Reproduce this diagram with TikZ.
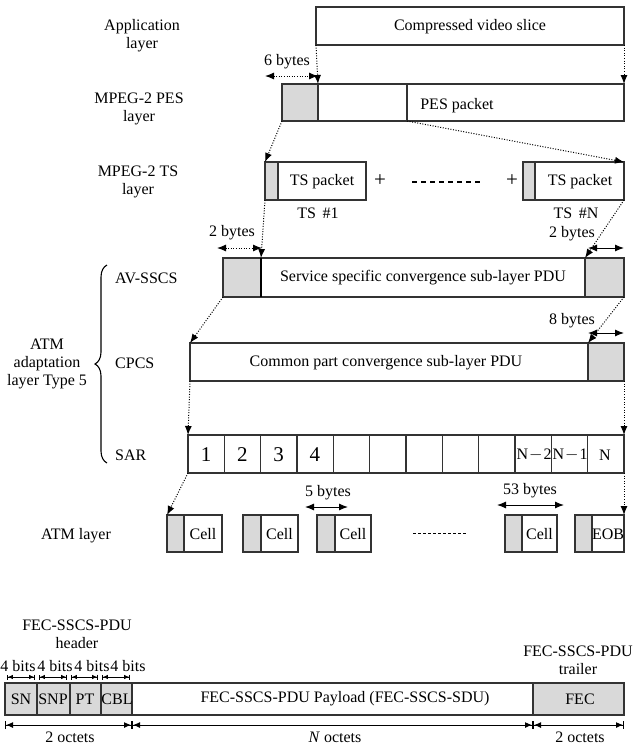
\documentclass[tikz,border=0pt]{standalone}
\usepackage{fontspec}
\setmainfont{Liberation Serif}
\usetikzlibrary{arrows.meta,decorations.pathreplacing}

\tikzset{
  txt/.style={font=\fontsize{16}{18}\selectfont, inner sep=0pt, align=center},
  big/.style={font=\fontsize{21}{22}\selectfont, inner sep=0pt},
  pkt/.style={draw=black!80, line width=1.1pt},
  hdr/.style={pkt, fill=black!15},
  map/.style={line width=1pt, dash pattern=on 1pt off 1.6pt, -{Latex[length=9pt,width=7pt]}},
  span/.style={line width=1pt, {Latex[length=9pt,width=7pt]}-{Latex[length=9pt,width=7pt]}},
  spandot/.style={span, dash pattern=on 1pt off 1.6pt},
  bits/.style={line width=0.8pt, {Bar[width=5pt]Latex[length=5pt,width=4.5pt]}-{Latex[length=5pt,width=4.5pt]Bar[width=5pt]}},
  octets/.style={line width=1pt, {Bar[width=8pt]Latex[length=7pt,width=6pt]}-{Latex[length=7pt,width=6pt]Bar[width=8pt]}}
}

\begin{document}
\begin{tikzpicture}[x=1pt,y=-1pt]
  \useasboundingbox (0,0) rectangle (635,747);

  \node[txt] (appl) at (142,36) {Application\\layer};
  \coordinate (V1) at (316,7);
  \coordinate (V2) at (624,45);
  \coordinate (V3) at (316,45);
  \draw[pkt] (V1) rectangle (V2);
  \node[txt] (vslice) at (470,27) {Compressed video slice};

  \node[txt] (peslbl) at (139,109) {MPEG-2 PES\\layer};
  \coordinate (P1) at (282,84);
  \coordinate (P2) at (624,121);
  \coordinate (P3) at (624,84);
  \coordinate (P4) at (282,121);
  \coordinate (Ph) at (318,84);
  \coordinate (Pd) at (407,121);
  \draw[hdr] (P1) rectangle (318,121);
  \draw[pkt] (Ph) rectangle (P2);
  \draw[pkt] (407,84) -- (Pd);
  \node[txt] (pes) at (457,106) {PES packet};
  \draw[map] (V3) -- (Ph);
  \draw[map] (V2) -- (P3);
  \coordinate (b6l) at (265,76);
  \coordinate (b6r) at (318,76);
  \draw[spandot] (b6l) -- (b6r);
  \node[txt] (b6) at (287,62) {6 bytes};

  \node[txt] (tslbl) at (138,182) {MPEG-2 TS\\layer};
  \coordinate (T1a) at (265,162);
  \coordinate (T1b) at (366,200);
  \coordinate (T1c) at (265,200);
  \draw[hdr] (T1a) rectangle (278,200);
  \draw[pkt] (278,162) rectangle (T1b);
  \node[txt] (ts1) at (322,182) {TS packet};
  \node[txt] (ts1n) at (318,213) {TS\,\ \#1};
  \node[big] (plus1) at (380,181) {+};
  \coordinate (dl) at (412,182);
  \coordinate (dr) at (482,182);
  \draw[line width=2.5pt, dash pattern=on 5pt off 4pt] (dl) -- (dr);
  \node[big] (plus2) at (512,181) {+};
  \coordinate (TNa) at (523,162);
  \coordinate (TNb) at (624,200);
  \coordinate (TNc) at (624,162);
  \draw[hdr] (TNa) rectangle (535,200);
  \draw[pkt] (535,162) rectangle (TNb);
  \node[txt] (tsn) at (580,182) {TS packet};
  \node[txt] (tsnn) at (576,213) {TS\,\ \#N};
  \draw[map] (P4) -- (T1a);
  \draw[map] (Pd) -- (TNc);

  \node[txt, anchor=west] (avlbl) at (115,278) {AV-SSCS};
  \coordinate (A1) at (223,258);
  \coordinate (A2) at (624,297);
  \coordinate (A3) at (223,297);
  \coordinate (Ad) at (261,258);
  \coordinate (Ar) at (585,258);
  \draw[hdr] (A1) rectangle (261,297);
  \draw[pkt] (Ad) rectangle (585,297);
  \draw[hdr] (Ar) rectangle (A2);
  \draw[line width=2.2pt] (Ad) -- (261,297);
  \node[txt] (avs) at (423,278) {Service specific convergence sub-layer PDU};
  \draw[map] (T1c) -- (Ad);
  \draw[map] (TNb) -- (Ar);
  \coordinate (b2l) at (217,248);
  \coordinate (b2m) at (262,248);
  \draw[spandot] (b2l) -- (b2m);
  \node[txt] (b2a) at (232,233) {2 bytes};
  \coordinate (b2s) at (588,248);
  \coordinate (b2e) at (624,248);
  \draw[span] (b2s) -- (b2e);
  \node[txt] (b2b) at (572,234) {2 bytes};

  \node[txt, anchor=west] (cplbl) at (115,363) {CPCS};
  \coordinate (C1) at (190,343);
  \coordinate (C2) at (624,381);
  \coordinate (C3) at (190,381);
  \coordinate (Ct) at (588,343);
  \draw[pkt] (C1) rectangle (588,381);
  \draw[hdr] (Ct) rectangle (C2);
  \node[txt] (cpcs) at (386,363) {Common part convergence sub-layer PDU};
  \draw[map] (A3) -- (C1);
  \draw[map] (A2) -- (Ct);
  \coordinate (b8s) at (588,333);
  \coordinate (b8e) at (624,333);
  \draw[span] (b8s) -- (b8e);
  \node[txt] (b8) at (572,321) {8 bytes};

  \node[txt, anchor=west] (sarlbl) at (115,455) {SAR};
  \coordinate (S1) at (188,435);
  \coordinate (S2) at (624,473);
  \coordinate (S3) at (188,473);
  \coordinate (S4) at (624,435);
  \foreach \i in {0,...,11}
    \draw[pkt] (188+36.33*\i,435) rectangle (188+36.33*\i+36.33,473);
  \foreach \i/\t in {0/1,1/2,2/3,3/4}
    \node[big] (sar\t) at (206+36.33*\i,455) {\t};
  \node[txt] (sarn2) at (534,455) {N\kern1pt$-$\kern1pt2};
  \node[txt] (sarn1) at (570,455) {N\kern1pt$-$\kern1pt1};
  \node[txt] (sarn) at (605,455) {N};
  \draw[map] (C3) -- (S1);
  \draw[map] (C2) -- (S4);

  \draw[decorate, decoration={brace, amplitude=12pt}, line width=1.1pt] (107,463) -- (107,265);
  \node[txt] (aal) at (47,364) {ATM\\adaptation\\layer Type 5};

  \node[txt] (atmlbl) at (76,536) {ATM layer};
  \foreach \a/\b/\c/\t/\n in {167/184/222/Cell/1, 243/261/298/Cell/2, 317/335/371/Cell/3, 505/522/557/Cell/4, 575/592/624/EOB/5} {
    \draw[hdr] (\a,515) rectangle (\b,552);
    \draw[pkt] (\b,515) rectangle (\c,552);
    \node[txt] (cell\n) at ({(\b+\c)/2},534) {\t};
  }
  \coordinate (E1) at (167,515);
  \coordinate (E2) at (624,515);
  \draw[map] (S3) -- (E1);
  \draw[map] (S2) -- (E2);
  \coordinate (al) at (413,533);
  \coordinate (ar) at (466,533);
  \draw[line width=1pt, dash pattern=on 3pt off 2pt] (al) -- (ar);
  \coordinate (b5s) at (305,507);
  \coordinate (b5e) at (348,507);
  \draw[span] (b5s) -- (b5e);
  \node[txt] (b5) at (328,493) {5 bytes};
  \coordinate (b53s) at (497,505);
  \coordinate (b53e) at (564,505);
  \draw[span] (b53s) -- (b53e);
  \node[txt] (b53) at (530,491) {53 bytes};

  \node[txt] (fechdr) at (77,634) {FEC-SSCS-PDU\\header};
  \foreach \x in {18,55,92,128}
    \node[txt] (bit\x) at (\x,666) {4 bits};
  \foreach \s/\e in {7/35,39/67,71/98,102/130}
    \draw[bits] (\s,677) -- (\e,677);
  \draw[hdr] (5,683) rectangle (37,715);
  \draw[hdr] (37,683) rectangle (70,715);
  \draw[hdr] (70,683) rectangle (101,715);
  \draw[hdr] (101,683) rectangle (132,715);
  \draw[pkt] (132,683) rectangle (533,715);
  \draw[hdr] (533,683) rectangle (624,715);
  \node[txt] (sn) at (21,699) {SN};
  \node[txt] (snp) at (53,699) {SNP};
  \node[txt] (pt) at (85,699) {PT};
  \node[txt] (cbl) at (117,699) {CBL};
  \node[txt] (payload) at (345,699) {FEC-SSCS-PDU Payload (FEC-SSCS-SDU)};
  \node[txt] (fec) at (580,699) {FEC};
  \node[txt] (fectrl) at (578,660) {FEC-SSCS-PDU\\trailer};
  \coordinate (o1) at (5,725);
  \coordinate (o2) at (132,725);
  \coordinate (o3) at (533,725);
  \coordinate (o4) at (624,725);
  \draw[octets] (o1) -- (o2);
  \draw[octets] (o2) -- (o3);
  \draw[octets] (o3) -- (o4);
  \node[txt] (oct1) at (70,737) {2 octets};
  \node[txt] (octn) at (335,737) {\textit{N} octets};
  \node[txt] (oct2) at (580,737) {2 octets};
\end{tikzpicture}
\end{document}
